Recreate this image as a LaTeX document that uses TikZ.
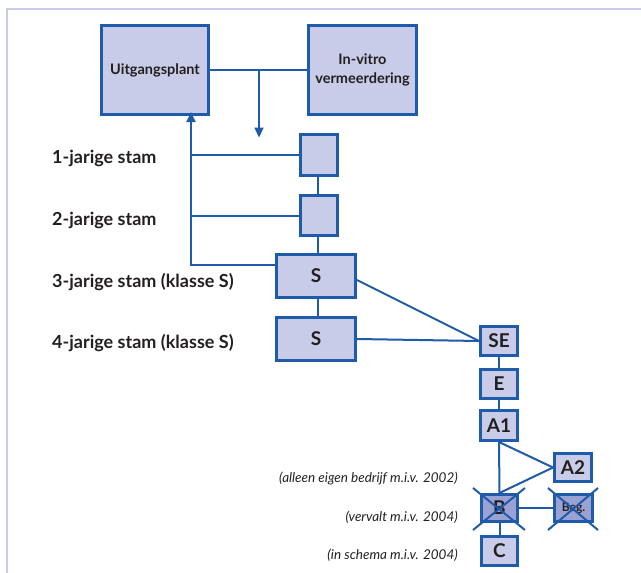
\documentclass[tikz,border=0pt]{standalone}
\usepackage{fontspec}
\setmainfont{Lato}
\usetikzlibrary{arrows.meta}
\definecolor{boxfill}{HTML}{C8CCE8}
\definecolor{darkfill}{HTML}{9AA2D4}
\definecolor{edge}{HTML}{1F5BA8}
\definecolor{frame}{HTML}{C8CCE8}
\definecolor{ink}{HTML}{231F20}
\tikzset{
  box/.style={draw=edge, fill=boxfill, line width=3pt, inner sep=0pt, text=ink,
    font=\fontsize{19}{21}\selectfont\bfseries, align=center},
  bigbox/.style={box, font=\fontsize{14.5}{19}\selectfont\bfseries},
  dbox/.style={box, fill=darkfill},
  conn/.style={draw=edge, line width=2pt},
  crossline/.style={draw=edge, line width=2pt},
  lab/.style={anchor=west, text=ink, font=\fontsize{18}{20}\selectfont\bfseries, inner sep=0pt},
  note/.style={anchor=east, text=ink, font=\fontsize{13.5}{16}\selectfont\itshape, inner sep=0pt},
  arr/.style={conn, -{Triangle[length=10pt,width=9pt]}}
}
\begin{document}
\begin{tikzpicture}[x=1pt,y=-1pt]
\useasboundingbox (0,0) rectangle (641,573);
\draw[frame, line width=2.5pt] (7,573) -- (7,9) -- (641,9);

% main boxes
\node[bigbox, minimum width=107, minimum height=89] (U) at (155,70) {Uitgangsplant};
\node[bigbox, minimum width=108, minimum height=89] (IV) at (362.5,70) {In-vitro\\vermeerdering};
\node[box, minimum width=37, minimum height=41] (b1) at (319,155) {};
\node[box, minimum width=37, minimum height=40] (b2) at (319,215.5) {};
\node[box, minimum width=79, minimum height=43] (S1) at (316,276) {S};
\node[box, minimum width=79, minimum height=43] (S2) at (316,339) {S};
\node[box, minimum width=37, minimum height=29] (SE) at (499,341) {SE};
\node[box, minimum width=37, minimum height=29] (E) at (499,384) {E};
\node[box, minimum width=37, minimum height=30] (A1) at (499,425.5) {A1};
\node[box, minimum width=37, minimum height=28] (A2) at (573,467.5) {A2};
\node[dbox, minimum width=36, minimum height=27] (B) at (499.5,508) {B};
\node[dbox, minimum width=38, minimum height=27, font=\fontsize{12}{13}\selectfont\bfseries] (Beg) at (573.5,508) {Beg.};
\node[box, minimum width=36, minimum height=29] (C) at (499.5,551) {C};

% left labels
\node[lab] (l1) at (52,158) {1-jarige stam};
\node[lab] (l2) at (52,220) {2-jarige stam};
\node[lab] (l3) at (52,282) {3-jarige stam (klasse S)};
\node[lab] (l4) at (52,343) {4-jarige stam (klasse S)};

% notes
\node[note] (n1) at (458,478) {(alleen eigen bedrijf m.i.v. 2002)};
\node[note] (n2) at (458,517) {(vervalt m.i.v. 2004)};
\node[note] (n3) at (458,555) {(in schema m.i.v. 2004)};

% connectors
\coordinate (j) at (259,69);
\coordinate (lv) at (191,265);
\coordinate (vx) at (318,0);
\draw[conn] (U.east) -- (IV.west);
\draw[arr] (j) -- ([yshift=-4.5pt]j |- b1.north);
\draw[conn] (vx |- b1.south) -- (vx |- b2.north);
\draw[conn] (vx |- b2.south) -- (vx |- S1.north);
\draw[conn] (vx |- S1.south) -- (vx |- S2.north);
\draw[conn] (b1.west) -- (lv |- b1.west);
\draw[conn] (b2.west) -- (lv |- b2.west);
\draw[arr] (S1.west |- lv) -- (lv) -- ([yshift=4pt]lv |- U.south);
\draw[conn] ([yshift=-4pt]S1.east) -- (SE.west);
\draw[conn] (S2.east) -- (SE.west);
\draw[conn] (SE) -- (E);
\draw[conn] (E) -- (A1);
\draw[conn] (A1.south) -- (B.north);
\draw[conn] (A1.south) -- (A2.west);
\draw[conn] (A2.west) -- (B.north);
\draw[conn] (B.east) -- (Beg.west);
\draw[conn] (B) -- (C);

% crosses
\draw[crossline] (473,488) -- (525,530);
\draw[crossline] (473,530) -- (525,488);
\draw[crossline] (548,488) -- (598,530);
\draw[crossline] (548,530) -- (598,488);
\end{tikzpicture}
\end{document}
